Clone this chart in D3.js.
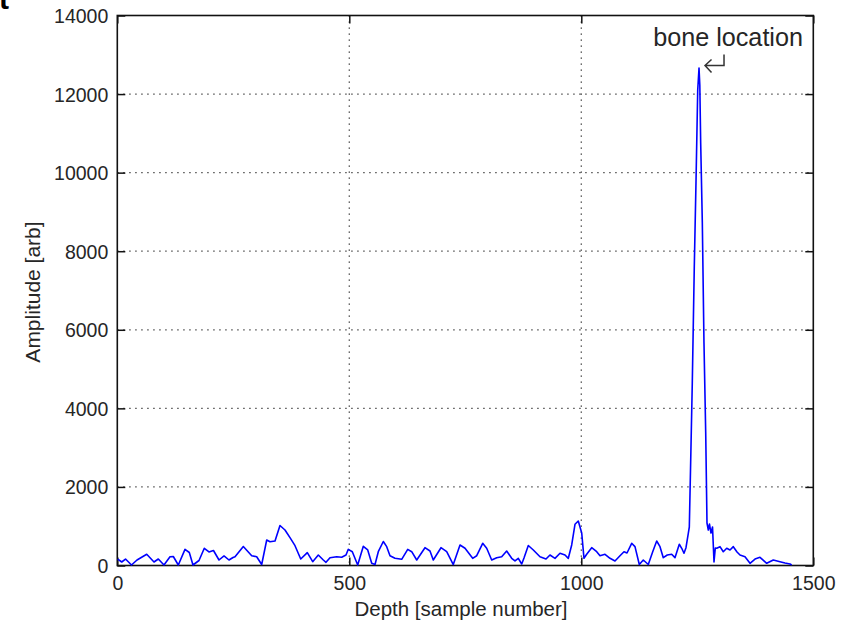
<!DOCTYPE html>
<html>
<head>
<meta charset="utf-8">
<script src="https://cdn.jsdelivr.net/npm/d3@7"></script>
<style>
  html, body { margin: 0; padding: 0; background: #fff; }
  svg { display: block; }
  text { font-family: "Liberation Sans", Arial, sans-serif; fill: #262626; }
</style>
</head>
<body>
<svg id="chart" width="844" height="621"></svg>
<script>
// ---- data ----
const depth = [1, 9.5, 17.7, 30.6, 42.5, 63.4, 79.1, 88.4, 100.6, 113.6, 120.7, 131.5, 145.9, 155.2, 163.1, 176.1, 187.5, 197.6, 207.3, 219.2, 230, 240.7, 249.4,
  253.7, 271.6, 289.7, 300.4, 311.2, 322, 329.1, 339.9, 350.6, 361.4, 372.2, 383, 395.3, 409.5, 421.1, 433.2, 444, 449.8, 458.4, 472.8, 483.6, 492.9,
  497.8, 506.5, 518.1, 530.2, 539.7, 548.3, 555.4, 562.5, 573.3, 580.6, 587.7, 598.5, 612.9, 625.9, 634.5, 645.3, 663.1, 673.9, 681, 697.6, 709.9, 724.1, 738.6,
  749.4, 765.9, 774.6, 787.5, 796.1, 806.9, 817.7, 828.4, 839.2, 850, 857.1, 864.2, 871.6, 876.5, 885.8, 896.6, 911, 923.9, 932.5, 943.3, 954.1, 964.9, 972, 979.3, 986.4, 993.5, 1000.9,
  1005.8, 1011.6, 1022.4, 1033.2, 1040.3, 1051.1, 1061.9, 1072.6, 1083.4, 1092, 1098.5, 1108.6, 1115.7, 1125, 1133.6, 1144.4, 1153.9, 1162.5, 1169.6, 1176.7, 1185.3, 1194.8, 1201.9, 1211.2, 1216.4, 1221.3, 1225.6, 1230.6,
  1232.8, 1235.8, 1239.2, 1243.5, 1247.2, 1250.9, 1253.7,
  1255.4, 1257.3, 1260.8, 1264.4, 1268.1, 1270.9, 1273.7, 1276.3, 1279.5, 1282.8, 1286, 1288.8, 1291.8, 1298.9, 1306, 1313.4, 1320.5, 1327.6, 1335.6, 1342, 1352.8, 1363.6, 1374.4, 1385.1, 1399.6, 1413.8, 1428.2, 1439, 1449.8, 1453.4];
const amplitude = [165, 89, 165, 13, 140, 285, 89, 165, 13, 224, 229, 13, 412, 331, 13, 127, 438, 344, 382, 140, 242, 140, 204,
  224, 484, 249, 224, 25, 649, 606, 624, 1018, 904, 708, 504, 165, 326, 97, 267, 140, 81, 199, 224, 209, 267,
  412, 351, 13, 489, 395, 56, 25, 351, 611, 479, 249, 183, 158, 412, 351, 140, 453, 369, 140, 453, 351, 25, 522,
  438, 183, 249, 565, 438, 140, 199, 224, 369, 183, 115, 183, 38, 191, 509, 395, 224, 165, 267, 183, 311, 267, 183, 522, 1049, 1133, 827,
  183, 285, 453, 351, 249, 285, 183, 115, 249, 351, 318, 565, 479, 25, 140, 25, 351, 624, 479, 199, 267, 285, 199, 540, 438, 311, 453, 820,
  980, 2685, 4645, 7598, 9762, 12104, 12664,
  12231, 10754, 8744, 5663, 3398, 1082, 904, 1056, 827, 980, 89, 445, 438, 479, 351, 438, 395, 479, 344, 267, 224, 56, 165, 209, 56, 140, 97, 64, 38, 13];

const xTicks = [0, 500, 1000, 1500];
const yTicks = [0, 2000, 4000, 6000, 8000, 10000, 12000, 14000];
const xLabel = "Depth [sample number]";
const yLabel = "Amplitude [arb]";
const annotationText = "bone location";
const peakDepth = 1253.7;
const peakAmp = 12664;

// ---- layout ----
const svg = d3.select("#chart");
const mLeft = 117.3, mRight = 813.3, mTop = 15.5, mBottom = 565.5;
const x = d3.scaleLinear().domain([0, 1500]).range([mLeft, mRight]);
const y = d3.scaleLinear().domain([0, 14000]).range([mBottom, mTop]);

// stray glyph at top-left corner (cropped panel letter)
svg.append("text").attr("x", -1).attr("y", 9).style("font-size", "30px").style("font-weight", "bold")
  .style("fill", "#000").text("t");

// grid (dotted)
const grid = svg.append("g").attr("stroke", "#333").attr("stroke-width", 1.3).attr("stroke-dasharray", "1.3,4.7");
grid.selectAll("line.gx").data(xTicks.slice(1, -1)).join("line").attr("class", "gx")
  .attr("x1", d => x(d)).attr("x2", d => x(d)).attr("y1", mTop).attr("y2", mBottom);
grid.selectAll("line.gy").data(yTicks.slice(1, -1)).join("line").attr("class", "gy")
  .attr("y1", d => y(d)).attr("y2", d => y(d)).attr("x1", mLeft).attr("x2", mRight);

// axes with inward ticks on all four sides
const tickLen = 8;
const fmt = d3.format("d");
const axB = svg.append("g").attr("transform", `translate(0,${mBottom})`)
  .call(d3.axisBottom(x).tickValues(xTicks).tickSize(-tickLen).tickPadding(10.5).tickFormat(fmt));
const axT = svg.append("g").attr("transform", `translate(0,${mTop})`)
  .call(d3.axisTop(x).tickValues(xTicks).tickSize(-tickLen).tickFormat(""));
const axL = svg.append("g").attr("transform", `translate(${mLeft},0)`)
  .call(d3.axisLeft(y).tickValues(yTicks).tickSize(-tickLen).tickPadding(9).tickFormat(fmt));
const axR = svg.append("g").attr("transform", `translate(${mRight},0)`)
  .call(d3.axisRight(y).tickValues(yTicks).tickSize(-tickLen).tickFormat(""));
[axB, axT, axL, axR].forEach(g => {
  g.select(".domain").remove();
  g.selectAll(".tick line").attr("stroke", "#111").attr("stroke-width", 1.5);
  g.selectAll(".tick text").attr("fill", "#262626").style("font-size", "19.5px")
    .style("font-family", "'Liberation Sans', Arial, sans-serif");
});
axL.selectAll(".tick text").attr("dy", "0.36em");

// box
svg.append("rect").attr("x", mLeft).attr("y", mTop).attr("width", mRight - mLeft).attr("height", mBottom - mTop)
  .attr("fill", "none").attr("stroke", "#111").attr("stroke-width", 1.6);

// signal
const pts = depth.map((d, i) => [d, amplitude[i]]);
svg.append("path").datum(pts)
  .attr("fill", "none").attr("stroke", "#0000ff").attr("stroke-width", 1.6).attr("stroke-linejoin", "round")
  .attr("d", d3.line().x(d => x(d[0])).y(d => y(d[1])));

// axis labels
svg.append("text").attr("x", 461).attr("y", 616).attr("text-anchor", "middle")
  .style("font-size", "20.5px").text(xLabel);
svg.append("text").attr("transform", "translate(40,292) rotate(-90)").attr("text-anchor", "middle")
  .style("font-size", "21px").text(yLabel);

// annotation
const ax = x(peakDepth), ay = y(peakAmp);
svg.append("text").attr("x", 803).attr("y", 46).attr("text-anchor", "end")
  .style("font-size", "25.2px").text(annotationText);
const a0x = ax + 6, a0y = ay - 2.5;
svg.append("path")
  .attr("d", `M${a0x + 19},${a0y - 11} V${a0y} H${a0x} M${a0x + 6.5},${a0y - 6} L${a0x},${a0y} L${a0x + 6.5},${a0y + 7}`)
  .attr("fill", "none").attr("stroke", "#333").attr("stroke-width", 1.5);
</script>
</body>
</html>
